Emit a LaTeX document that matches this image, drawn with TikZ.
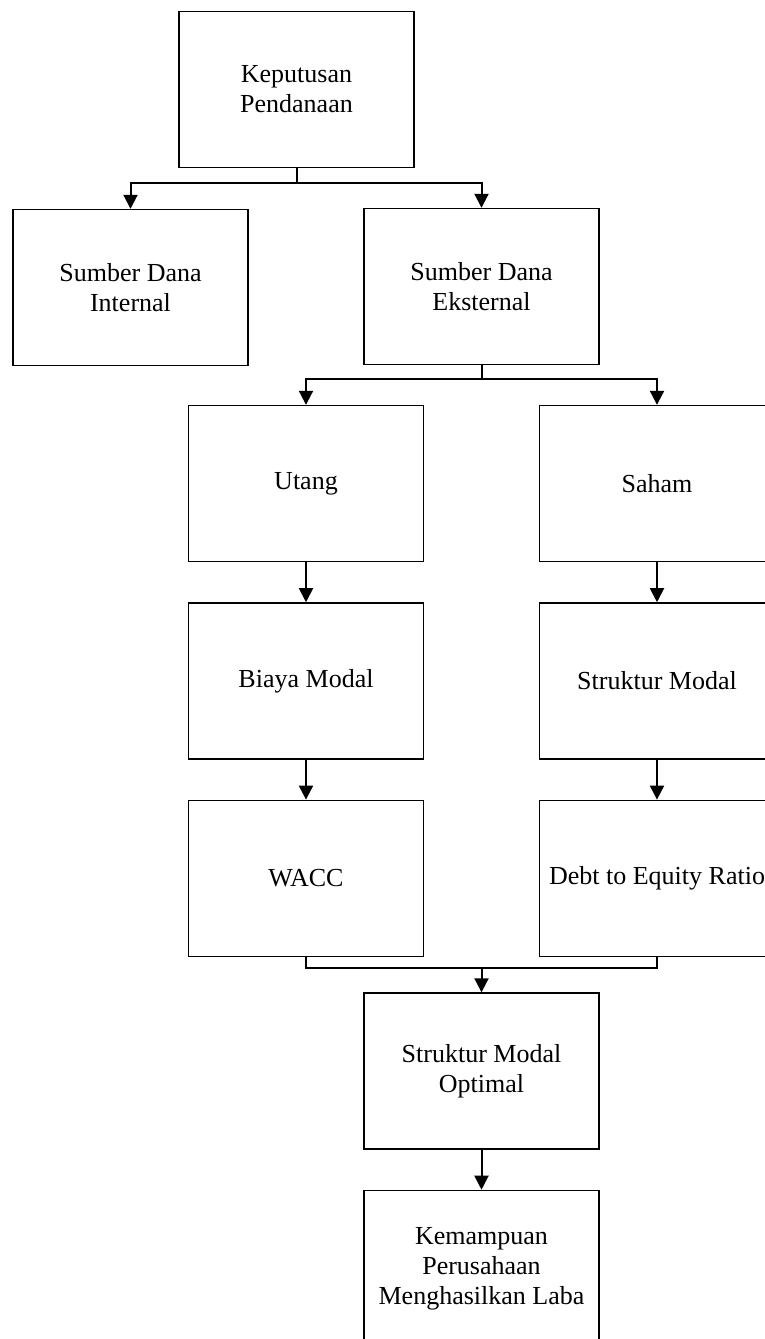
\documentclass[tikz,border=0pt]{standalone}
\usepackage{fontspec}
\setmainfont{Liberation Serif}
\usepackage{tikz}
\usetikzlibrary{arrows.meta, positioning, calc}

\begin{document}
\begin{tikzpicture}[
    x=1pt, y=1pt,
    font=\fontsize{26}{30}\selectfont,
    box/.style={draw, line width=1.4pt, minimum width=235pt, minimum height=156pt, align=center, inner sep=2pt},
    arr/.style={-{Triangle[length=14pt, width=14pt]}, line width=2pt},
    conn/.style={line width=2pt},
]
\useasboundingbox (0,0) rectangle (764,-1339);

% --- Top ---
\node[box] (kp) at (296.5,-89.5) {Keputusan\\Pendanaan};

% --- Sumber dana ---
\node[box] (sdi) at (130.5,-287.5) {Sumber Dana\\Internal};
\node[box] (sde) at (481.5,-286.5) {Sumber Dana\\Eksternal};

% --- Utang branch ---
\node[box] (utang) at (306,-483.5) {Utang};
\node[box, below=40pt of utang] (biaya) {Biaya Modal};
\node[box, below=40pt of biaya] (wacc) {WACC};

% --- Saham branch ---
\node[box] (saham) at (657,-483.5) {Saham};
\node[box, below=40pt of saham] (struktur) {Struktur Modal};
\node[box, below=40pt of struktur] (der) {Debt to Equity Ratio};

% --- Bottom ---
\node[box] (smo) at (481.5,-1071) {Struktur Modal\\Optimal};
\node[box, below=40pt of smo] (kem) {Kemampuan\\Perusahaan\\Menghasilkan Laba};

% --- Keputusan -> sumber dana ---
\draw[arr] (kp.south) -- ++(0,-15) -| (sdi.north);
\draw[arr] (kp.south) -- ++(0,-15) -| (sde.north);

% --- Eksternal -> utang / saham ---
\draw[arr] (sde.south) -- ++(0,-14) -| (utang.north);
\draw[arr] (sde.south) -- ++(0,-14) -| (saham.north);

% --- Chains ---
\draw[arr] (utang) -- (biaya);
\draw[arr] (biaya) -- (wacc);
\draw[arr] (saham) -- (struktur);
\draw[arr] (struktur) -- (der);

% --- Merge into optimal structure ---
\coordinate[above=24pt of smo.north] (mrg);
\draw[conn] (wacc.south) |- (mrg) -| (der.south);
\draw[arr] (mrg) -- (smo.north);
\draw[arr] (smo) -- (kem);

\end{tikzpicture}
\end{document}
